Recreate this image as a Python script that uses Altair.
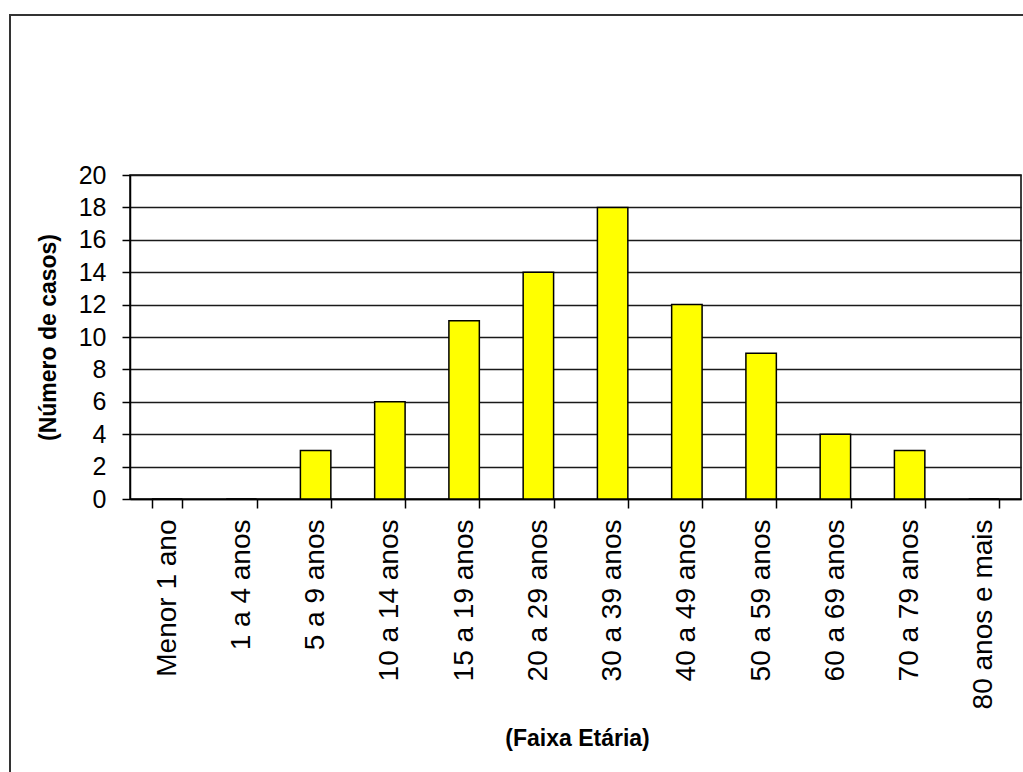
import altair as alt
import pandas as pd

# Casos por faixa etária
faixas = [
    "Menor 1 ano", "1 a 4 anos", "5 a 9 anos", "10 a 14 anos",
    "15 a 19 anos", "20 a 29 anos", "30 a 39 anos", "40 a 49 anos",
    "50 a 59 anos", "60 a 69 anos", "70 a 79 anos", "80 anos e mais",
]
casos = [0, 0, 3, 6, 11, 14, 18, 12, 9, 4, 3, 0]
y_ticks = list(range(0, 21, 2))

df = pd.DataFrame({"faixa": faixas, "casos": casos})

FONT = "Liberation Sans"

bars = alt.Chart(df).mark_bar(
    color="#FFFF00", stroke="#000000", strokeWidth=1.5
).encode(
    x=alt.X(
        "faixa:N",
        sort=faixas,
        scale=alt.Scale(paddingInner=0.59, paddingOuter=0.295),
        axis=alt.Axis(
            title="(Faixa Etária)",
            titleFont=FONT,
            titleFontSize=23,
            titleFontWeight="bold",
            titleColor="#000000",
            titleX=447,
            titleY=239,
            titleAlign="center",
            titleBaseline="middle",
            labelAngle=270,
            labelAlign="right",
            labelBaseline="middle",
            labelFont=FONT,
            labelFontSize=28,
            labelColor="#000000",
            labelPadding=11,
            labelLimit=400,
            tickBand="extent",
            tickSize=9,
            tickColor="#000000",
            tickWidth=1.5,
            domainColor="#000000",
            domainWidth=1.5,
            grid=False,
        ),
    ),
    y=alt.Y(
        "casos:Q",
        scale=alt.Scale(domain=[0, 20], nice=False),
        axis=alt.Axis(
            values=y_ticks,
            title="(Número de casos)",
            titleFont=FONT,
            titleFontSize=23,
            titleFontWeight="bold",
            titleColor="#000000",
            titleAngle=270,
            titleX=-82,
            titleY=162,
            titleAlign="center",
            titleBaseline="middle",
            labelFont=FONT,
            labelFontSize=25,
            labelColor="#000000",
            labelPadding=16,
            tickSize=8,
            tickColor="#000000",
            tickWidth=1.5,
            domainColor="#000000",
            domainWidth=1.5,
            grid=True,
            gridColor="#1a1a1a",
            gridWidth=1.5,
        ),
    ),
)

# Moldura externa do gráfico
moldura = alt.Chart(pd.DataFrame({"k": [0]})).mark_rect(
    fill=None, fillOpacity=0, stroke="#333333", strokeWidth=2
).encode(
    x=alt.value(-120),
    x2=alt.value(910),
    y=alt.value(-160),
    y2=alt.value(620),
)

chart = alt.layer(moldura, bars).properties(
    width=891,
    height=324,
    autosize=alt.AutoSizeParams(type="none"),
    padding={"left": 130, "top": 175, "right": 2, "bottom": 273},
    background="#ffffff",
).configure_view(
    stroke="#000000", strokeWidth=1.5
)

chart.save("out.html", embed_options={"renderer": "svg", "actions": False})
